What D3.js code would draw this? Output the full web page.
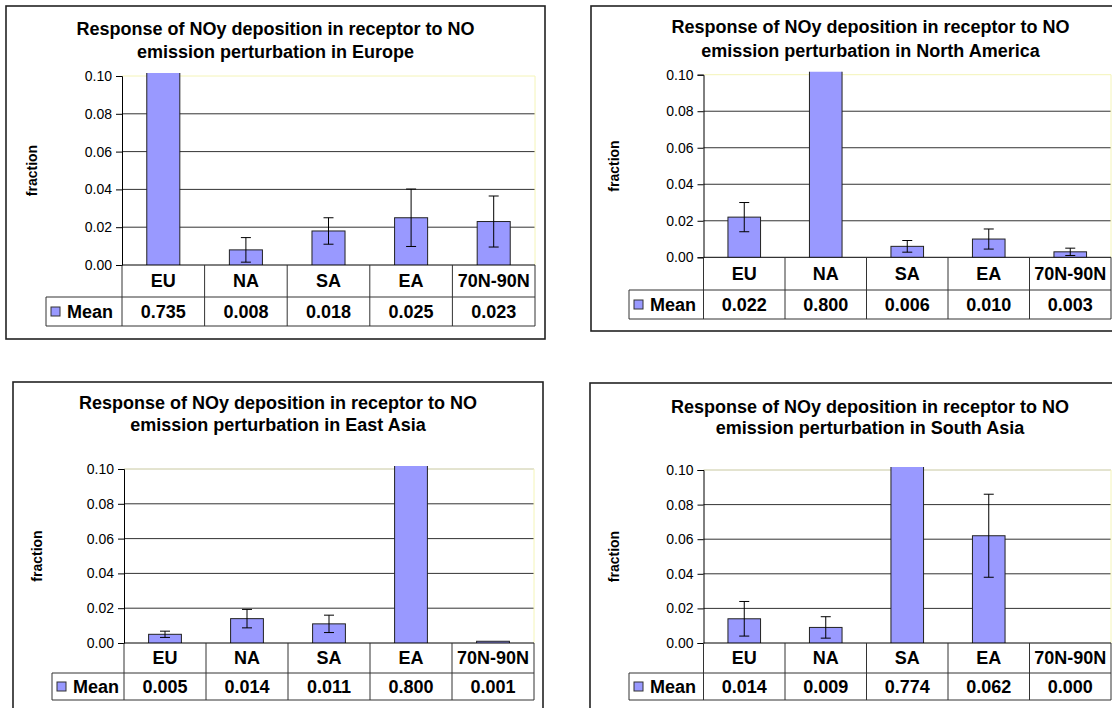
<!DOCTYPE html>
<html><head><meta charset="utf-8">
<script src="https://cdn.jsdelivr.net/npm/d3@7"></script>
<style>body{margin:0;background:#fff}svg{display:block}text{font-family:"Liberation Sans",Arial,sans-serif}</style>
</head><body>
<svg id="c" width="1112" height="708"></svg>
<script>
// ---- data ----
const categories = ["EU", "NA", "SA", "EA", "70N-90N"];
const yTicks = [0, 0.02, 0.04, 0.06, 0.08, 0.10];
const titleLine1 = "Response of NOy deposition in receptor to NO";
const sourceRegions = ["Europe", "North America", "East Asia", "South Asia"];
const meanEurope = [0.735, 0.008, 0.018, 0.025, 0.023];
const errEurope = [0, 0.0065, 0.007, 0.0152, 0.0135];
const meanNorthAmerica = [0.022, 0.800, 0.006, 0.010, 0.003];
const errNorthAmerica = [0.008, 0, 0.0032, 0.0055, 0.002];
const meanEastAsia = [0.005, 0.014, 0.011, 0.800, 0.001];
const errEastAsia = [0.0018, 0.0053, 0.005, 0, 0];
const meanSouthAsia = [0.014, 0.009, 0.774, 0.062, 0.000];
const errSouthAsia = [0.010, 0.0062, 0, 0.024, 0];
const yLabel = "fraction";
const legendLabel = "Mean";

// ---- layout (positions only) ----
const layouts = [
  {box:[6,6,545,339], x0:122, x1:535, yTop:76, y0:265, catB:297, meanB:326, tL:46, t1:35, t2:58, fx:32},
  {box:[591,6,1150,331], x0:703.5, x1:1111, yTop:74.7, y0:257.3, catB:290, meanB:319, tL:629, t1:33, t2:57, fx:614.5},
  {box:[13,382,543,740], x0:124, x1:534, yTop:469, y0:643, catB:673, meanB:700, tL:52, t1:409, t2:431, fx:37},
  {box:[590,383,1150,740], x0:703.5, x1:1111, yTop:470, y0:643, catB:673, meanB:700, tL:629, t1:413, t2:434, fx:614}
];
const means = [meanEurope, meanNorthAmerica, meanEastAsia, meanSouthAsia];
const errs = [errEurope, errNorthAmerica, errEastAsia, errSouthAsia];

const svg = d3.select("#c");
const barFill = "#9999FF";
const fmt = d3.format(".2f");
const FS = 18;

layouts.forEach((L, i) => {
  const g = svg.append("g");
  const [bx0, by0, bx1, by1] = L.box;
  g.append("rect").attr("x", bx0).attr("y", by0).attr("width", bx1 - bx0).attr("height", by1 - by0)
    .attr("fill", "#fff").attr("stroke", "#222").attr("stroke-width", 1.6);
  const cx = (bx0 + bx1) / 2;
  g.append("text").attr("x", cx).attr("y", L.t1).attr("text-anchor", "middle")
    .attr("font-size", FS).attr("font-weight", "bold").text(titleLine1);
  g.append("text").attr("x", cx).attr("y", L.t2).attr("text-anchor", "middle")
    .attr("font-size", FS).attr("font-weight", "bold").text("emission perturbation in " + sourceRegions[i]);

  const y = d3.scaleLinear().domain([0, 0.10]).range([L.y0, L.yTop]);
  const x = d3.scaleBand().domain(categories).range([L.x0, L.x1]).paddingInner(0.6).paddingOuter(0.3);
  const xc = d3.scaleBand().domain(categories).range([L.x0, L.x1]);

  // gridlines
  g.selectAll(".grid").data(yTicks.filter(t => t > 0 && t < 0.1)).join("line")
    .attr("x1", L.x0).attr("x2", L.x1).attr("y1", d => y(d)).attr("y2", d => y(d))
    .attr("stroke", "#333").attr("stroke-width", 1);
  // plot top & right border
  const pb = (i < 2) ? "#f4f4b8" : "#c8c8a0";
  g.append("line").attr("x1", L.x0).attr("x2", L.x1).attr("y1", y(0.1)).attr("y2", y(0.1)).attr("stroke", pb);
  g.append("line").attr("x1", L.x1).attr("x2", L.x1).attr("y1", y(0.1)).attr("y2", L.y0).attr("stroke", "#f4f4b8");

  // clip
  const cid = "clip" + i;
  svg.append("clipPath").attr("id", cid).append("rect")
    .attr("x", L.x0).attr("y", L.yTop - 3).attr("width", L.x1 - L.x0).attr("height", L.y0 - L.yTop + 3);
  const pg = g.append("g").attr("clip-path", `url(#${cid})`);
  const data = categories.map((c, k) => ({c, v: means[i][k], e: errs[i][k]}));
  pg.selectAll("rect.bar").data(data.filter(d => d.v > 0)).join("rect")
    .attr("x", d => x(d.c)).attr("width", x.bandwidth())
    .attr("y", d => y(d.v)).attr("height", d => L.y0 - y(d.v) + 0.5)
    .attr("fill", barFill).attr("stroke", "#222").attr("stroke-width", 1);
  const eb = data.filter(d => d.e > 0);
  pg.selectAll("line.ev").data(eb).join("line")
    .attr("x1", d => x(d.c) + x.bandwidth() / 2).attr("x2", d => x(d.c) + x.bandwidth() / 2)
    .attr("y1", d => y(d.v + d.e)).attr("y2", d => y(d.v - d.e)).attr("stroke", "#000");
  ["+", "-"].forEach(s => {
    pg.selectAll("line.cap" + (s === "+" ? "a" : "b")).data(eb).join("line")
      .attr("x1", d => x(d.c) + x.bandwidth() / 2 - 5).attr("x2", d => x(d.c) + x.bandwidth() / 2 + 5)
      .attr("y1", d => y(s === "+" ? d.v + d.e : d.v - d.e)).attr("y2", d => y(s === "+" ? d.v + d.e : d.v - d.e))
      .attr("stroke", "#000");
  });

  // y axis
  const ax = g.append("g").attr("transform", `translate(${L.x0},0)`)
    .call(d3.axisLeft(y).tickValues(yTicks).tickFormat(fmt).tickSize(6).tickPadding(4));
  ax.select(".domain").attr("stroke", "#000");
  ax.selectAll(".tick line").attr("stroke", "#000");
  ax.selectAll("text").attr("font-size", 14).attr("fill", "#000").attr("font-family", "Liberation Sans, Arial, sans-serif");
  // baseline
  g.append("line").attr("x1", L.x0).attr("x2", L.x1).attr("y1", L.y0).attr("y2", L.y0).attr("stroke", "#000");

  // y label
  g.append("text").attr("transform", `translate(${L.fx},${(L.yTop + L.y0) / 2}) rotate(-90)`)
    .attr("text-anchor", "middle").attr("dy", "0.35em").attr("font-size", 14).attr("font-weight", "bold").text(yLabel);

  // table
  const tc = "#333";
  categories.forEach((c, k) => {
    g.append("line").attr("x1", xc(c)).attr("x2", xc(c)).attr("y1", L.y0).attr("y2", L.meanB).attr("stroke", tc);
  });
  g.append("line").attr("x1", L.x1).attr("x2", L.x1).attr("y1", L.y0).attr("y2", L.meanB).attr("stroke", tc);
  g.append("line").attr("x1", L.tL).attr("x2", L.x1).attr("y1", L.catB).attr("y2", L.catB).attr("stroke", tc);
  g.append("line").attr("x1", L.tL).attr("x2", L.x1).attr("y1", L.meanB).attr("y2", L.meanB).attr("stroke", tc);
  g.append("line").attr("x1", L.tL).attr("x2", L.tL).attr("y1", L.catB).attr("y2", L.meanB).attr("stroke", tc);
  g.selectAll("text.cat").data(categories).join("text")
    .attr("x", d => xc(d) + xc.bandwidth() / 2).attr("y", (L.y0 + L.catB) / 2).attr("dy", "0.36em")
    .attr("text-anchor", "middle").attr("font-size", FS).attr("font-weight", "bold").text(d => d);
  g.selectAll("text.val").data(data).join("text")
    .attr("x", d => xc(d.c) + xc.bandwidth() / 2).attr("y", (L.catB + L.meanB) / 2).attr("dy", "0.36em")
    .attr("text-anchor", "middle").attr("font-size", FS).attr("font-weight", "bold").text(d => d3.format(".3f")(d.v));
  const my = (L.catB + L.meanB) / 2;
  g.append("rect").attr("x", L.tL + 5).attr("y", my - 4.5).attr("width", 9).attr("height", 9)
    .attr("fill", barFill).attr("stroke", "#333");
  g.append("text").attr("x", L.tL + 21).attr("y", my).attr("dy", "0.36em")
    .attr("font-size", FS).attr("font-weight", "bold").text(legendLabel);
});
</script>
</body></html>
